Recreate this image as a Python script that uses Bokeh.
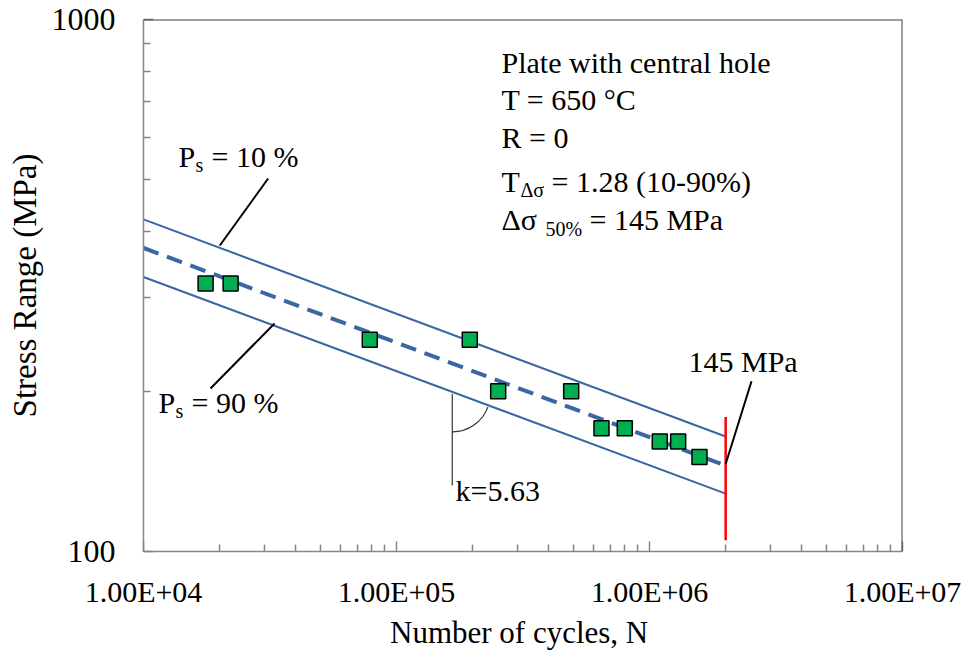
from bokeh.plotting import figure
from bokeh.models import Range1d, FixedTicker, Span
from bokeh.embed import file_html
from bokeh.resources import INLINE
from bokeh.core.properties import value

# ---- data ----
cycles = [17600, 22100, 78400, 194800, 252300, 490300, 646000, 798700, 1098000, 1298000, 1576000]
stress = [319, 319, 250, 250, 200, 200, 170.5, 170.5, 161, 161, 150.5]

line_N = [1e4, 2e6]
median_50 = [372, 145]
upper_10 = [421, 164.5]
lower_90 = [328, 128.5]

ref_N = [2e6, 2e6]
ref_S = [105, 179]

x_major = [10000, 100000, 1000000, 10000000]
x_tick_labels = ["1.00E+04", "1.00E+05", "1.00E+06", "1.00E+07"]
y_major = [100, 1000]
y_tick_labels = ["100", "1000"]

x_minor = [m * 10 ** e for e in (4, 5, 6) for m in range(2, 10)]
y_minor = [m * 100 for m in range(2, 10)]

FONT = "Liberation Serif"
BLUE = "#3A67A3"
GREEN = "#00B050"
AXIS_GRAY = "#868686"

p = figure(width=973, height=659, x_axis_type="log", y_axis_type="log",
           x_range=Range1d(1e4, 1e7), y_range=Range1d(100, 1000),
           output_backend="svg", toolbar_location=None,
           min_border_left=143, min_border_right=71, min_border_top=19, min_border_bottom=108)
p.outline_line_color = None
p.grid.visible = False
p.background_fill_color = "white"
p.border_fill_color = "white"

xa = p.xaxis[0]
ya = p.yaxis[0]
xa.ticker = FixedTicker(ticks=x_major, minor_ticks=x_minor)
ya.ticker = FixedTicker(ticks=y_major, minor_ticks=y_minor)
xa.major_label_overrides = {v: s for v, s in zip(x_major, x_tick_labels)}
ya.major_label_overrides = {v: s for v, s in zip(y_major, y_tick_labels)}
xa.axis_label = "Number of cycles,  N"
ya.axis_label = "Stress Range (MPa)"

for ax in (xa, ya):
    ax.axis_line_color = AXIS_GRAY
    ax.axis_line_width = 1.5
    ax.major_tick_line_color = AXIS_GRAY
    ax.minor_tick_line_color = AXIS_GRAY
    ax.major_tick_line_width = 1.5
    ax.minor_tick_line_width = 1.5
    ax.major_tick_in = 10
    ax.major_tick_out = 0
    ax.minor_tick_in = 7
    ax.minor_tick_out = 0
    ax.major_label_text_font = FONT
    ax.major_label_text_font_size = "30px"
    ax.major_label_text_color = "black"
    ax.axis_label_text_font = FONT
    ax.axis_label_text_font_style = "normal"
    ax.axis_label_text_color = "black"

ya.major_label_text_font_size = "32px"
xa.axis_label_text_font_size = "31px"
ya.axis_label_text_font_size = "33px"
xa.major_label_standoff = 23
xa.axis_label_standoff = 4
ya.major_label_standoff = 28
ya.axis_label_standoff = 6
ya.major_label_orientation = "horizontal"

p.add_layout(Span(location=1000, dimension="width", line_color="#404040", line_width=2))
p.add_layout(Span(location=1e7, dimension="height", line_color="#404040", line_width=2))

# S-N band lines
p.line(line_N, upper_10, line_color=BLUE, line_width=2)
p.line(line_N, lower_90, line_color=BLUE, line_width=2)
p.line(line_N, median_50, line_color=BLUE, line_width=4, line_dash="16 9")
p.line(ref_N, ref_S, line_color="#FF0000", line_width=2.5)

p.scatter(cycles, stress, marker="square", size=15, fill_color=GREEN,
          line_color="black", line_width=1.5)

# leader lines and slope marker
p.line([31100, 20030], [502.5, 376], line_color="black", line_width=2)
p.line([32950, 18400], [268.3, 202.5], line_color="black", line_width=2)
p.line([2531000, 2000000], [209, 146], line_color="black", line_width=2)
p.line([166100, 166100], [197.8, 133], line_color="#333333", line_width=1.2)
p.arc(x=[166100], y=[197.8], radius=38, radius_units="screen",
      start_angle=-90, end_angle=-20, start_angle_units="deg", end_angle_units="deg",
      line_color="#333333", line_width=1.2)


def label(x, y, txt, size="30px", xo=0, yo=0):
    p.text(x=[x], y=[y], text=[txt], x_offset=xo, y_offset=yo,
           text_font=value(FONT), text_font_size=size,
           text_align="left", text_baseline="middle", text_color="black")


XI = 260000
label(XI, 830, "Plate with central hole")
label(XI, 706, "T = 650 °C")
label(XI, 599, "R = 0")
label(XI, 495, "T")
label(XI, 495, "Δσ", size="20px", xo=19, yo=8)
label(XI, 495, "= 1.28 (10-90%)", xo=50)
label(XI, 420, "Δσ")
label(XI, 420, "50%", size="20px", xo=44, yo=9)
label(XI, 420, "= 145 MPa", xo=88)

label(13750, 552, "P")
label(13750, 552, "s", size="20px", xo=17, yo=8)
label(13750, 552, "= 10 %", xo=33)

label(11460, 190.5, "P")
label(11460, 190.5, "s", size="20px", xo=17, yo=8)
label(11460, 190.5, "= 90 %", xo=33)

label(171100, 130.2, "k=5.63")
label(1426000, 228, "145 MPa")

open("out.html", "w").write(file_html(p, INLINE))
